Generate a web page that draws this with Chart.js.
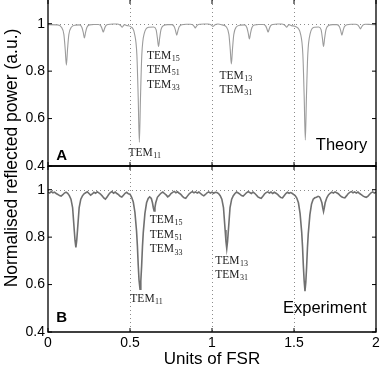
<!DOCTYPE html>
<html>
<head>
<meta charset="utf-8">
<script src="https://cdn.jsdelivr.net/npm/chart.js@4.4.1/dist/chart.umd.min.js"></script>
<style>
  html, body { margin: 0; padding: 0; background: #fff; }
  #wrap { position: relative; width: 382px; height: 372px; }
  canvas { position: absolute; left: 0; top: 0; }
</style>
</head>
<body>
<div id="wrap">
  <canvas id="bottomChart" width="382" height="372"></canvas>
  <canvas id="topChart" width="382" height="186"></canvas>
</div>
<script>
// tick values shared by both panels
const xTicks = [0, 0.5, 1, 1.5, 2];
const yTicks = [0.4, 0.6, 0.8, 1];
const xGuides = [0.5, 1, 1.5];

// theory trace (panel A)
const theoryX = [
  0, 0.056,
  0.082, 0.097, 0.105, 0.112, 0.119, 0.127, 0.142, 0.167,
  0.192, 0.207, 0.215, 0.222, 0.229, 0.237, 0.252, 0.28,
  0.307, 0.322, 0.330, 0.337, 0.344, 0.352, 0.367, 0.395,
  0.422, 0.437, 0.445, 0.452, 0.459, 0.467, 0.482, 0.505,
  0.527, 0.542, 0.550, 0.557, 0.564, 0.572, 0.587, 0.615,
  0.644, 0.659, 0.667, 0.674, 0.681, 0.689, 0.704, 0.73,
  0.755, 0.770, 0.778, 0.785, 0.792, 0.800, 0.815, 0.842,
  0.868, 0.883, 0.891, 0.898, 0.905, 0.913, 0.928, 0.952,
  0.976, 0.991, 0.999, 1.006, 1.013, 1.021, 1.036, 1.062,
  1.088, 1.103, 1.111, 1.118, 1.125, 1.133, 1.148, 1.173,
  1.198, 1.213, 1.221, 1.228, 1.235, 1.243, 1.258, 1.285,
  1.312, 1.327, 1.335, 1.342, 1.349, 1.357, 1.372, 1.398,
  1.425, 1.440, 1.448, 1.455, 1.462, 1.470, 1.485, 1.512,
  1.539, 1.554, 1.562, 1.569, 1.576, 1.584, 1.599, 1.625,
  1.650, 1.665, 1.673, 1.680, 1.687, 1.695, 1.710, 1.736,
  1.762, 1.777, 1.785, 1.792, 1.799, 1.807, 1.822, 1.848,
  1.875, 1.890, 1.898, 1.905, 1.912, 1.920, 1.935, 1.968,
  2
];
const theoryY = [
  0.996, 0.995,
  0.985, 0.954, 0.891, 0.825, 0.891, 0.954, 0.985, 0.994,
  0.995, 0.984, 0.963, 0.940, 0.963, 0.984, 0.995, 0.997,
  0.997, 0.991, 0.978, 0.965, 0.978, 0.991, 0.997, 0.999,
  0.999, 0.996, 0.991, 0.985, 0.991, 0.996, 0.992, 0.987,
  0.959, 0.868, 0.689, 0.500, 0.689, 0.868, 0.959, 0.985,
  0.986, 0.975, 0.940, 0.904, 0.940, 0.975, 0.992, 0.996,
  0.996, 0.987, 0.970, 0.952, 0.970, 0.987, 0.996, 0.998,
  0.998, 0.995, 0.989, 0.982, 0.989, 0.995, 0.998, 0.999,
  0.999, 0.997, 0.992, 0.988, 0.992, 0.997, 0.999, 0.995,
  0.986, 0.955, 0.894, 0.830, 0.894, 0.955, 0.986, 0.994,
  0.995, 0.983, 0.960, 0.936, 0.960, 0.983, 0.995, 0.997,
  0.997, 0.991, 0.978, 0.965, 0.978, 0.991, 0.997, 0.999,
  0.999, 0.996, 0.991, 0.985, 0.991, 0.996, 0.992, 0.987,
  0.959, 0.870, 0.695, 0.510, 0.695, 0.870, 0.959, 0.985,
  0.986, 0.975, 0.940, 0.904, 0.940, 0.975, 0.992, 0.996,
  0.996, 0.987, 0.970, 0.952, 0.970, 0.987, 0.996, 0.998,
  0.998, 0.994, 0.986, 0.978, 0.986, 0.994, 0.998, 0.997,
  0.996
];

const expX = [
  0.00, 0.01, 0.02, 0.03, 0.04, 0.05, 0.06, 0.07, 0.08, 0.09,
  0.10, 0.11, 0.12, 0.13, 0.14, 0.15, 0.16, 0.165, 0.17, 0.175,
  0.18, 0.19, 0.20, 0.21, 0.22, 0.23, 0.24, 0.25, 0.26, 0.27,
  0.28, 0.29, 0.30, 0.31, 0.32, 0.33, 0.34, 0.35, 0.36, 0.37,
  0.38, 0.39, 0.40, 0.41, 0.42, 0.43, 0.44, 0.45, 0.46, 0.47,
  0.48, 0.49, 0.50, 0.51, 0.52, 0.53, 0.54, 0.545, 0.55, 0.555,
  0.561, 0.566, 0.571, 0.576, 0.581, 0.591, 0.601, 0.611, 0.62, 0.63,
  0.637, 0.642, 0.647, 0.652, 0.657, 0.667, 0.68, 0.69, 0.70, 0.71,
  0.72, 0.73, 0.74, 0.75, 0.76, 0.77, 0.78, 0.79, 0.80, 0.81,
  0.82, 0.83, 0.84, 0.85, 0.86, 0.87, 0.88, 0.89, 0.90, 0.91,
  0.92, 0.93, 0.94, 0.95, 0.96, 0.97, 0.98, 0.99, 1.00, 1.01,
  1.02, 1.03, 1.04, 1.05, 1.06, 1.07, 1.08, 1.085, 1.09, 1.095,
  1.10, 1.11, 1.12, 1.13, 1.14, 1.15, 1.16, 1.17, 1.18, 1.19,
  1.20, 1.21, 1.22, 1.23, 1.24, 1.25, 1.26, 1.27, 1.28, 1.29,
  1.30, 1.31, 1.32, 1.33, 1.34, 1.35, 1.36, 1.37, 1.38, 1.39,
  1.40, 1.41, 1.42, 1.43, 1.44, 1.45, 1.46, 1.47, 1.48, 1.49,
  1.497, 1.507, 1.517, 1.527, 1.537, 1.547, 1.552, 1.557, 1.562, 1.567,
  1.572, 1.577, 1.582, 1.587, 1.597, 1.607, 1.617, 1.627, 1.637, 1.647,
  1.655, 1.66, 1.67, 1.675, 1.68, 1.685, 1.69, 1.70, 1.71, 1.72,
  1.73, 1.74, 1.75, 1.76, 1.77, 1.78, 1.79, 1.80, 1.81, 1.82,
  1.83, 1.84, 1.85, 1.86, 1.87, 1.88, 1.89, 1.90, 1.91, 1.92,
  1.93, 1.94, 1.95, 1.96, 1.97, 1.98, 1.99, 2.00
];
const expY = [
  0.990, 0.986, 0.992, 0.987, 0.990, 0.984, 0.980, 0.975, 0.973, 0.979,
  0.986, 0.990, 0.985, 0.975, 0.960, 0.925, 0.830, 0.785, 0.757, 0.785,
  0.830, 0.925, 0.960, 0.974, 0.983, 0.987, 0.991, 0.984, 0.977, 0.982,
  0.989, 0.985, 0.991, 0.987, 0.982, 0.974, 0.965, 0.960, 0.969, 0.980,
  0.988, 0.992, 0.985, 0.990, 0.984, 0.979, 0.972, 0.969, 0.977, 0.985,
  0.989, 0.983, 0.981, 0.968, 0.948, 0.905, 0.825, 0.765, 0.685, 0.620,
  0.580, 0.615, 0.680, 0.760, 0.820, 0.900, 0.945, 0.963, 0.970, 0.963,
  0.945, 0.925, 0.910, 0.925, 0.945, 0.968, 0.979, 0.986, 0.990, 0.984,
  0.978, 0.970, 0.975, 0.984, 0.989, 0.993, 0.987, 0.991, 0.985, 0.980,
  0.972, 0.966, 0.964, 0.973, 0.982, 0.988, 0.992, 0.987, 0.991, 0.986,
  0.990, 0.984, 0.978, 0.974, 0.980, 0.987, 0.991, 0.986, 0.990, 0.985,
  0.989, 0.988, 0.984, 0.975, 0.960, 0.925, 0.830, 0.783, 0.752, 0.783,
  0.830, 0.925, 0.960, 0.975, 0.984, 0.990, 0.986, 0.981, 0.975, 0.973,
  0.980, 0.987, 0.992, 0.988, 0.984, 0.990, 0.985, 0.978, 0.970, 0.966,
  0.964, 0.972, 0.982, 0.988, 0.991, 0.986, 0.990, 0.984, 0.989, 0.985,
  0.980, 0.973, 0.967, 0.966, 0.975, 0.984, 0.989, 0.985, 0.988, 0.984,
  0.980, 0.975, 0.965, 0.945, 0.900, 0.820, 0.760, 0.680, 0.615, 0.572,
  0.610, 0.675, 0.755, 0.815, 0.895, 0.940, 0.960, 0.966, 0.968, 0.972,
  0.970, 0.965, 0.945, 0.925, 0.908, 0.925, 0.945, 0.966, 0.978, 0.985,
  0.990, 0.986, 0.991, 0.987, 0.983, 0.976, 0.970, 0.967, 0.966, 0.974,
  0.983, 0.989, 0.992, 0.987, 0.991, 0.986, 0.990, 0.984, 0.979, 0.974,
  0.970, 0.968, 0.972, 0.980, 0.987, 0.991, 0.986, 0.990
];

// mode labels, placed in data units
const topNotes = [
  { sub: '15', x: 0.604, y: 0.866 },
  { sub: '51', x: 0.604, y: 0.804 },
  { sub: '33', x: 0.604, y: 0.741 },
  { sub: '11', x: 0.491, y: 0.456 },
  { sub: '13', x: 1.046, y: 0.781 },
  { sub: '31', x: 1.046, y: 0.722 }
];
const bottomNotes = [
  { sub: '15', x: 0.62, y: 0.874 },
  { sub: '51', x: 0.62, y: 0.811 },
  { sub: '33', x: 0.62, y: 0.748 },
  { sub: '11', x: 0.502, y: 0.541 },
  { sub: '13', x: 1.02, y: 0.701 },
  { sub: '31', x: 1.02, y: 0.642 }
];

Chart.defaults.font.family = '"Liberation Sans", Arial, sans-serif';
Chart.defaults.color = '#000';

function toPoints(xs, ys) {
  return xs.map((x, i) => ({ x: x, y: ys[i] }));
}

// draws dotted guides, frame, inward ticks and text for one panel
const panelPlugin = {
  id: 'panel',
  beforeDatasetsDraw(chart, args, opts) {
    const { ctx, chartArea: a } = chart;
    const xs = chart.scales.x, ys = chart.scales.y;
    ctx.save();
    ctx.strokeStyle = '#8c8c8c';
    ctx.lineWidth = 1;
    ctx.setLineDash([1, 3]);
    ctx.beginPath();
    xGuides.forEach(v => {
      const px = Math.round(xs.getPixelForValue(v)) + 0.5;
      ctx.moveTo(px, a.top);
      ctx.lineTo(px, a.bottom);
    });
    const py = Math.round(ys.getPixelForValue(1)) + 0.5;
    ctx.moveTo(a.left, py);
    ctx.lineTo(a.right, py);
    ctx.stroke();
    ctx.restore();
  },
  afterDatasetsDraw(chart, args, opts) {
    const { ctx, chartArea: a } = chart;
    const xs = chart.scales.x, ys = chart.scales.y;
    ctx.save();
    ctx.strokeStyle = '#000';
    ctx.lineWidth = 1.3;
    ctx.beginPath();
    if (opts.drawTop) {
      ctx.moveTo(a.left, a.top);
      ctx.lineTo(a.right, a.top);
    }
    ctx.moveTo(a.left, a.top);
    ctx.lineTo(a.left, a.bottom);
    ctx.lineTo(a.right, a.bottom);
    ctx.lineTo(a.right, a.top);
    ctx.stroke();

    ctx.lineWidth = 1;
    ctx.beginPath();
    yTicks.forEach(v => {
      const y = ys.getPixelForValue(v);
      ctx.moveTo(a.left, y); ctx.lineTo(a.left + 4, y);
      ctx.moveTo(a.right, y); ctx.lineTo(a.right - 4, y);
    });
    xTicks.forEach(v => {
      const x = xs.getPixelForValue(v);
      ctx.moveTo(x, a.bottom); ctx.lineTo(x, a.bottom - 4);
      ctx.moveTo(x, a.top); ctx.lineTo(x, a.top + 4);
    });
    ctx.stroke();

    // TEM mode labels
    ctx.fillStyle = '#222';
    ctx.textBaseline = 'middle';
    ctx.textAlign = 'left';
    opts.notes.forEach(n => {
      const x = xs.getPixelForValue(n.x);
      const y = ys.getPixelForValue(n.y);
      ctx.font = '11.5px "Liberation Serif", "Times New Roman", serif';
      ctx.fillText('TEM', x, y);
      const w = ctx.measureText('TEM').width;
      ctx.font = '8px "Liberation Serif", "Times New Roman", serif';
      ctx.fillText(n.sub, x + w + 0.5, y + 3);
    });

    // panel letter and caption
    ctx.fillStyle = '#000';
    ctx.textBaseline = 'alphabetic';
    ctx.font = 'bold 15px "Liberation Sans", Arial, sans-serif';
    ctx.fillText(opts.letter, xs.getPixelForValue(0.05), ys.getPixelForValue(opts.letterY));
    ctx.font = '16.5px "Liberation Sans", Arial, sans-serif';
    ctx.fillText(opts.caption, xs.getPixelForValue(opts.captionX), ys.getPixelForValue(opts.captionY));

    if (opts.yTitle) {
      ctx.translate(12, 158);
      ctx.rotate(-Math.PI / 2);
      ctx.textAlign = 'center';
      ctx.textBaseline = 'middle';
      ctx.font = '17.5px "Liberation Sans", Arial, sans-serif';
      ctx.fillText(opts.yTitle, 0, 0);
    }
    ctx.restore();
  }
};

function yScale() {
  return {
    type: 'linear',
    min: 0.4,
    max: 1.1,
    grid: { display: false, drawTicks: false },
    border: { display: false },
    ticks: {
      padding: 3,
      font: { size: 14 },
      color: '#000',
      callback: v => (v === 1 ? '1' : v.toFixed(1))
    },
    afterBuildTicks: axis => { axis.ticks = yTicks.map(v => ({ value: v })); },
    afterFit: axis => {
      axis.width = 40;
      axis.paddingTop = 0;
      axis.paddingBottom = 0;
    }
  };
}

function makePanel(id, points, lineColor, lineWidth, smooth, padding, showX, panelOpts) {
  return new Chart(document.getElementById(id), {
    type: 'line',
    data: {
      datasets: [{
        data: points,
        borderColor: lineColor,
        borderWidth: lineWidth,
        pointRadius: 0,
        fill: false,
        cubicInterpolationMode: smooth ? 'monotone' : 'default',
        tension: 0
      }]
    },
    options: {
      responsive: false,
      animation: false,
      layout: { padding: padding },
      plugins: { legend: { display: false }, tooltip: { enabled: false }, panel: panelOpts },
      scales: {
        x: {
          type: 'linear',
          display: showX,
          min: 0,
          max: 2,
          grid: { display: false, drawTicks: false },
          border: { display: false },
          ticks: { padding: 3, font: { size: 14 }, color: '#000', maxRotation: 0, callback: v => String(v) },
          afterBuildTicks: axis => { axis.ticks = xTicks.map(v => ({ value: v })); },
          title: {
            display: showX,
            text: 'Units of FSR',
            font: { size: 17 },
            color: '#000',
            padding: { top: 0, bottom: 2 }
          },
          afterFit: axis => {
            if (showX) axis.height = 40;
            axis.paddingLeft = 0;
            axis.paddingRight = 0;
          }
        },
        y: yScale()
      }
    },
    plugins: [panelPlugin]
  });
}

makePanel('bottomChart', toPoints(expX, expY), '#707070', 1.6, false,
  { left: 8, right: 6, top: 166, bottom: 0 }, true,
  {
    notes: bottomNotes, drawTop: true,
    letter: 'B', letterY: 0.443,
    caption: 'Experiment', captionX: 1.433, captionY: 0.481,
    yTitle: 'Normalised reflected power (a.u.)'
  });

makePanel('topChart', toPoints(theoryX, theoryY), '#9c9c9c', 1.1, true,
  { left: 8, right: 6, top: 0, bottom: 20 }, false,
  {
    notes: topNotes, drawTop: false,
    letter: 'A', letterY: 0.427,
    caption: 'Theory', captionX: 1.633, captionY: 0.469
  });
</script>
</body>
</html>
